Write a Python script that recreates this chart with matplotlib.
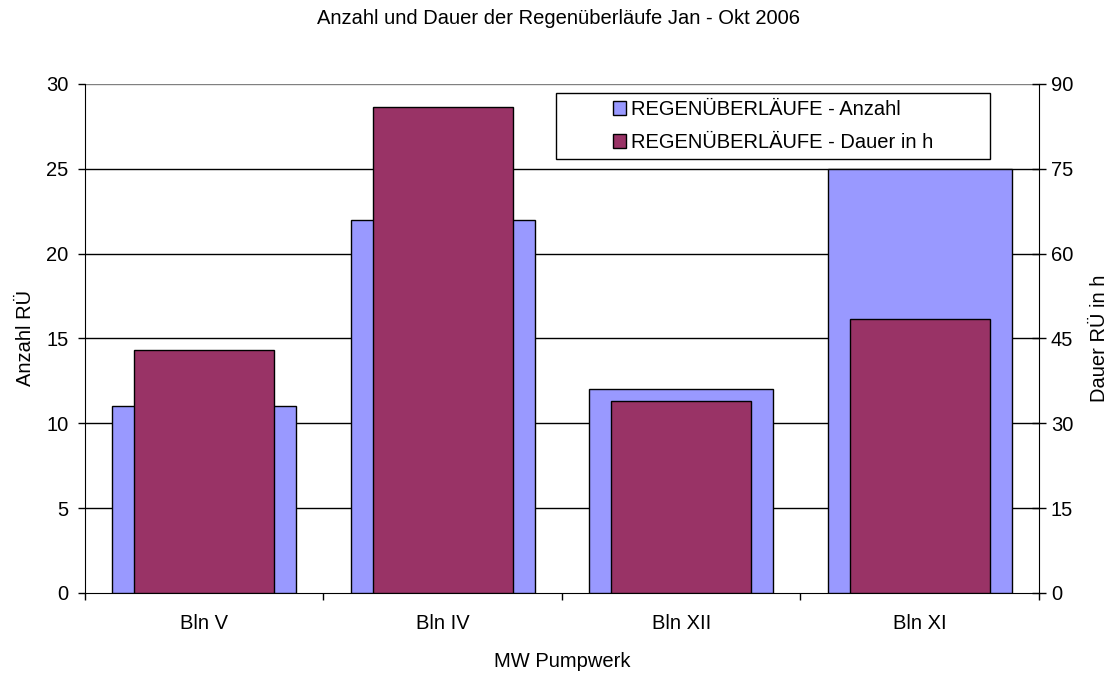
import numpy as np
import matplotlib
matplotlib.use("Agg")
import matplotlib.pyplot as plt
from matplotlib.patches import Patch, Rectangle

plt.rcParams['font.family'] = ['Liberation Sans', 'DejaVu Sans']

# Data
categories = ["Bln V", "Bln IV", "Bln XII", "Bln XI"]
anzahl = [11, 22, 12, 25]
dauer = [43, 86, 34, 48.5]

blue = "#9999FF"
maroon = "#993366"
fs = 14.5

fig = plt.figure(figsize=(11.17, 6.73), dpi=100)
ax = fig.add_axes([0.0761, 0.1189, 0.930 - 0.0761, 0.8752 - 0.1189])
ax2 = ax.twinx()

x = np.arange(len(categories))

# Anzahl bars (left axis)
ax.bar(x, anzahl, width=0.772, color=blue, edgecolor="black", linewidth=1, zorder=3)
ax.set_ylim(0, 30)
ax.set_yticks(range(0, 31, 5))
ax.set_xlim(-0.5, len(categories) - 0.5)
for yv in range(5, 31, 5):
    ax.axhline(yv, color="black" if yv < 30 else "#808080", linewidth=1, zorder=1)

# Dauer bars (right axis)
ax2.bar(x, dauer, width=0.587, color=maroon, edgecolor="black", linewidth=1, zorder=3)
ax2.set_ylim(0, 90)
ax2.set_yticks(range(0, 91, 15))

# x ticks between categories
ax.set_xticks(x)
ax.set_xticklabels(categories, fontsize=fs)
ax.tick_params(axis="x", length=0, pad=15)
ax.set_xticks(np.arange(-0.5, len(categories), 1), minor=True)
ax.tick_params(axis="x", which="minor", length=5, width=1, direction="out")

ax.tick_params(axis="y", labelsize=fs, length=5, direction="out", width=1, pad=7)
ax2.tick_params(axis="y", labelsize=fs, length=9.5, direction="inout", width=1, pad=4)

for a in (ax, ax2):
    a.spines["top"].set_visible(False)
ax.spines["right"].set_visible(False)
ax2.spines["left"].set_visible(False)
ax2.spines["bottom"].set_visible(False)
ax2.spines["right"].set_color("black")

ax.set_ylabel("Anzahl RÜ", fontsize=fs, labelpad=8)
ax2.set_ylabel("Dauer RÜ in h", fontsize=fs, labelpad=12)
ax.set_xlabel("MW Pumpwerk", fontsize=fs, labelpad=14)

fig.text(0.5, 1 - 18 / 673, "Anzahl und Dauer der Regenüberläufe Jan - Okt 2006",
         fontsize=fs, ha="center", va="center")

# legend frame drawn separately, wider than the entries like in the original
frame = Rectangle((0.4937, 0.8527), 0.9486 - 0.4937, 0.9823 - 0.8527,
                  transform=ax2.transAxes, facecolor="white", edgecolor="black",
                  linewidth=1, zorder=8)
ax2.add_patch(frame)

handles = [Patch(facecolor=blue, edgecolor="black", label="REGENÜBERLÄUFE - Anzahl"),
           Patch(facecolor=maroon, edgecolor="black", label="REGENÜBERLÄUFE - Dauer in h")]
leg = ax2.legend(handles=handles, loc="center", bbox_to_anchor=(0.7212, 0.9175),
                 fontsize=fs, frameon=False, handlelength=0.65, handleheight=0.65,
                 handletextpad=0.25, borderpad=0, labelspacing=0.7, borderaxespad=0)
leg.set_zorder(10)

fig.savefig("out.png", dpi=100)
